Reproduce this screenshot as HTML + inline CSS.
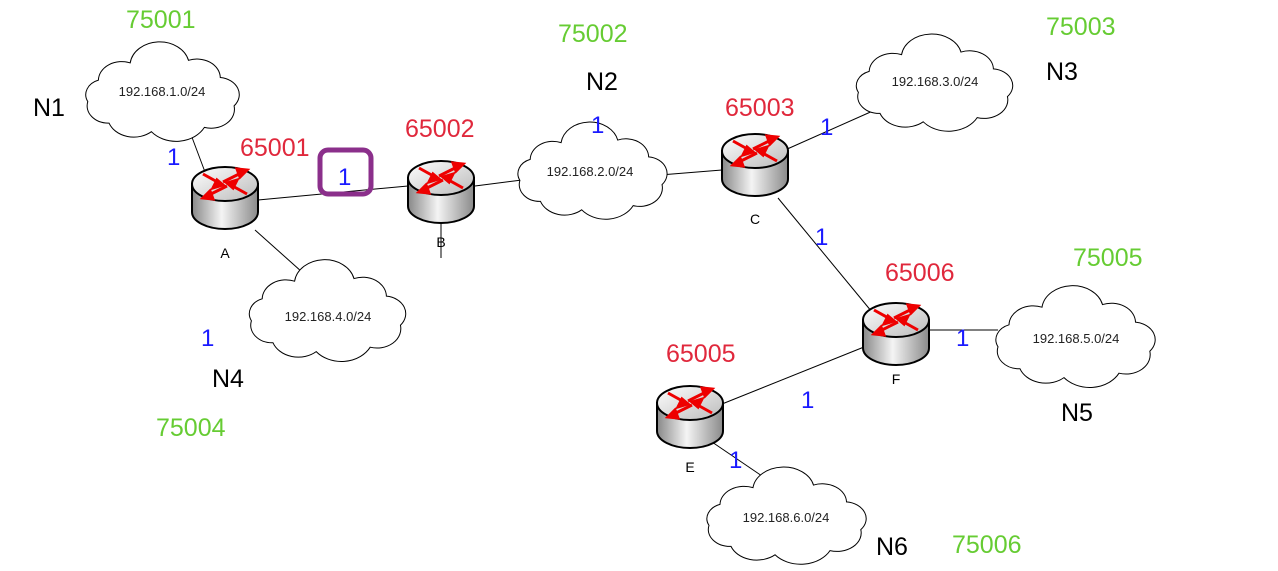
<!DOCTYPE html>
<html><head><meta charset="utf-8"><style>
body{margin:0;background:#fff;}
svg{display:block;font-family:"Liberation Sans",Arial,sans-serif;}
.g{fill:#66cc33;font-size:25px}
.r{fill:#e0283c;font-size:25px}
.k{fill:#000;font-size:25px}
.b{fill:#1a1aff;font-size:24px}
.c{font-size:13px;fill:#222}
.l{font-size:14px;fill:#000}
</style></head><body>
<svg width="1278" height="571" viewBox="0 0 1278 571" xmlns="http://www.w3.org/2000/svg">
<defs>
<linearGradient id="body" x1="0" x2="1" y1="0" y2="0">
<stop offset="0" stop-color="#888"/><stop offset="0.45" stop-color="#f4f4f4"/><stop offset="1" stop-color="#8a8a8a"/></linearGradient>
<linearGradient id="top" x1="0" x2="1" y1="0" y2="1">
<stop offset="0" stop-color="#fff"/><stop offset="1" stop-color="#bbb"/></linearGradient>
<path id="cloud" d="M -60,-15 A 22 22 0 0 1 -30,-35 A 28 28 0 0 1 25,-38 A 22 22 0 0 1 55,-18 A 20 20 0 0 1 68,15 A 22 22 0 0 1 40,40 A 30 30 0 0 1 -10,45 A 25 25 0 0 1 -50,35 A 20 20 0 0 1 -70,10 A 18 18 0 0 1 -60,-15 Z" fill="#fff" stroke="#000" stroke-width="1" vector-effect="non-scaling-stroke"/>
<g id="router">
<path d="M -33,-12 L -33,16 A 33 17 0 0 0 33,16 L 33,-12 Z" fill="url(#body)" stroke="#000" stroke-width="2"/>
<ellipse cx="0" cy="-12" rx="33" ry="17" fill="url(#top)" stroke="#000" stroke-width="2"/>
<g stroke="#e00" stroke-width="3" fill="#e00">
<line x1="-22" y1="-22" x2="-4" y2="-12"/><polygon points="-2,-11 -12,-8 -8,-16"/>
<line x1="22" y1="-2" x2="4" y2="-12"/><polygon points="2,-13 12,-16 8,-8"/>
<line x1="-2" y1="-14" x2="18" y2="-24"/><polygon points="22,-26 12,-27 15,-19"/>
<line x1="2" y1="-10" x2="-18" y2="0"/><polygon points="-22,2 -12,3 -15,-5"/>
</g>
</g>
</defs>
<g stroke="#000" stroke-width="1">
<line x1="205" y1="172" x2="190" y2="132"/>
<line x1="258" y1="200" x2="408" y2="186"/>
<line x1="475" y1="186" x2="522" y2="180"/>
<line x1="660" y1="175" x2="722" y2="170"/>
<line x1="785" y1="150" x2="875" y2="110"/>
<line x1="778" y1="198" x2="872" y2="312"/>
<line x1="255" y1="230" x2="302" y2="272"/>
<line x1="928" y1="330" x2="998" y2="330"/>
<line x1="722" y1="404" x2="864" y2="347"/>
<line x1="712" y1="442" x2="762" y2="476"/>
<line x1="441" y1="222" x2="441" y2="258"/>
</g>
<use href="#cloud" transform="translate(162,93) scale(1.06,0.86)"/>
<use href="#cloud" transform="translate(592,172) scale(1.03,0.84)"/>
<use href="#cloud" transform="translate(934,84) scale(1.08,0.84)"/>
<use href="#cloud" transform="translate(327,312) scale(1.08,0.88)"/>
<use href="#cloud" transform="translate(1075,338) scale(1.1,0.88)"/>
<use href="#cloud" transform="translate(786,517) scale(1.1,0.84)"/>
<text class="c" x="162" y="96" text-anchor="middle">192.168.1.0/24</text>
<text class="c" x="590" y="176" text-anchor="middle">192.168.2.0/24</text>
<text class="c" x="935" y="86" text-anchor="middle">192.168.3.0/24</text>
<text class="c" x="328" y="321" text-anchor="middle">192.168.4.0/24</text>
<text class="c" x="1076" y="343" text-anchor="middle">192.168.5.0/24</text>
<text class="c" x="786" y="522" text-anchor="middle">192.168.6.0/24</text>
<use href="#router" transform="translate(225,196)"/>
<use href="#router" transform="translate(441,190)"/>
<use href="#router" transform="translate(755,163)"/>
<use href="#router" transform="translate(896,332)"/>
<use href="#router" transform="translate(690,415)"/>
<text class="l" x="225" y="258" text-anchor="middle">A</text>
<text class="l" x="441" y="247" text-anchor="middle">B</text>
<text class="l" x="755" y="224" text-anchor="middle">C</text>
<text class="l" x="896" y="384" text-anchor="middle">F</text>
<text class="l" x="690" y="472" text-anchor="middle">E</text>
<text class="g" x="126" y="28">75001</text>
<text class="g" x="558" y="42">75002</text>
<text class="g" x="1046" y="35">75003</text>
<text class="g" x="156" y="436">75004</text>
<text class="g" x="1073" y="266">75005</text>
<text class="g" x="952" y="553">75006</text>
<text class="r" x="240" y="156">65001</text>
<text class="r" x="405" y="137">65002</text>
<text class="r" x="725" y="116">65003</text>
<text class="r" x="885" y="281">65006</text>
<text class="r" x="666" y="362">65005</text>
<text class="k" x="33" y="116">N1</text>
<text class="k" x="586" y="90">N2</text>
<text class="k" x="1046" y="80">N3</text>
<text class="k" x="212" y="387">N4</text>
<text class="k" x="1061" y="421">N5</text>
<text class="k" x="876" y="555">N6</text>
<rect x="320" y="150" width="51" height="44" rx="8" fill="none" stroke="#8b2f8b" stroke-width="5"/>
<text class="b" x="338" y="185">1</text>
<text class="b" x="167" y="165">1</text>
<text class="b" x="591" y="133">1</text>
<text class="b" x="820" y="135">1</text>
<text class="b" x="815" y="245">1</text>
<text class="b" x="201" y="346">1</text>
<text class="b" x="956" y="346">1</text>
<text class="b" x="801" y="408">1</text>
<text class="b" x="729" y="468">1</text>
</svg>
</body></html>
